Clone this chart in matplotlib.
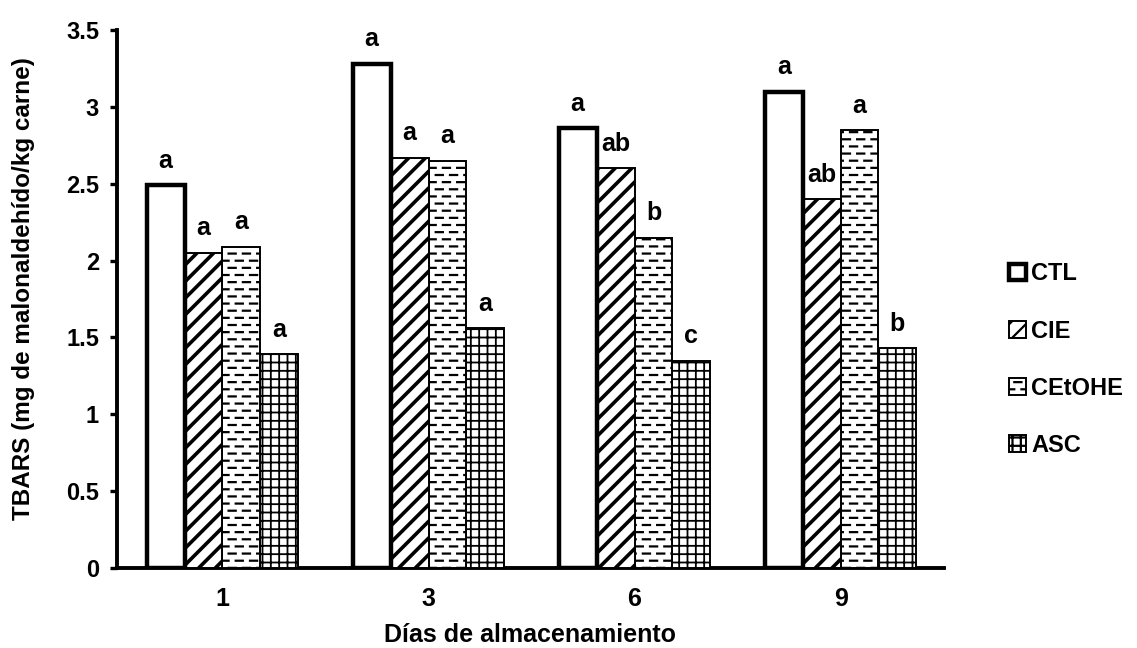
import warnings

import matplotlib
matplotlib.use("Agg")
import matplotlib.pyplot as plt
import numpy as np
from matplotlib import hatch as mhatch
from matplotlib.path import Path

warnings.filterwarnings("ignore")

dias = ["1", "3", "6", "9"]
tratamientos = ["CTL", "CIE", "CEtOHE", "ASC"]
ctl = [2.49, 3.28, 2.86, 3.10]
cie = [2.05, 2.67, 2.60, 2.40]
cetohe = [2.09, 2.65, 2.15, 2.85]
asc = [1.39, 1.56, 1.35, 1.43]
letras_ctl = ["a", "a", "a", "a"]
letras_cie = ["a", "a", "ab", "ab"]
letras_cetohe = ["a", "a", "b", "a"]
letras_asc = ["a", "a", "c", "b"]
y_ticks = [0, 0.5, 1, 1.5, 2, 2.5, 3, 3.5]
y_tick_labels = ["0", "0.5", "1", "1.5", "2", "2.5", "3", "3.5"]


class DashHatch(mhatch.HatchPatternBase):
    """Trama de guiones horizontales escalonados (caracter 'd')."""

    def __init__(self, hatch, density):
        self.rows = hatch.count("d") * 14
        self.dashes = 7
        self.num_vertices = self.rows * self.dashes * 2

    def set_vertices_and_codes(self, vertices, codes):
        k = 0
        for r in range(self.rows):
            y = (r + 0.5) / self.rows
            shift = 0.5 / self.dashes if r % 2 else 0.0
            for d in range(self.dashes):
                x0 = d / self.dashes + shift
                vertices[k] = (x0, y)
                vertices[k + 1] = (x0 + 0.5 / self.dashes, y)
                codes[k] = Path.MOVETO
                codes[k + 1] = Path.LINETO
                k += 2


mhatch._hatch_types.append(DashHatch)

plt.rcParams["font.family"] = ["Liberation Sans", "DejaVu Sans"]
plt.rcParams["font.weight"] = "bold"
plt.rcParams["hatch.linewidth"] = 1.6
plt.rcParams["hatch.color"] = "black"

fig = plt.figure(figsize=(11.37, 6.48), dpi=100)
ax = fig.add_axes([0.1029, 0.1235, 0.727, 0.830])

x = np.arange(len(dias))
w = 0.184
series = [ctl, cie, cetohe, asc]
letras = [letras_ctl, letras_cie, letras_cetohe, letras_asc]
hatches = ["", "//", "d", "++"]
hatch_lws = [1.0, 2.6, 1.6, 1.3]
lws = [3.2, 1.4, 1.4, 1.4]
handles = []
for i, (vals, h, lw) in enumerate(zip(series, hatches, lws)):
    pos = x + (i - 1.5) * w
    bars = ax.bar(pos, vals, width=w, color="white", edgecolor="black",
                  hatch=h, linewidth=lw, label=tratamientos[i], zorder=3 - i * 0.1)
    for b in bars:
        if hasattr(b, "set_hatch_linewidth"):
            b.set_hatch_linewidth(hatch_lws[i])
    handles.append(bars)
    for xp, v, t in zip(pos, vals, letras[i]):
        ax.annotate(t, (xp, v), xytext=(0, 9), textcoords="offset points",
                    ha="center", va="bottom", fontsize=18, fontweight="bold")

ax.set_xlim(-0.512, 3.5)
ax.set_ylim(0, 3.5)
ax.set_yticks(y_ticks)
ax.set_yticklabels(y_tick_labels)
ax.set_xticks(x)
ax.set_xticklabels(dias)
ax.tick_params(axis="y", direction="out", length=5, width=2.4, labelsize=17, pad=8)
ax.tick_params(axis="x", length=0, labelsize=18, pad=14)
for s in ["top", "right"]:
    ax.spines[s].set_visible(False)
for s in ["left", "bottom"]:
    ax.spines[s].set_linewidth(2.8)

ax.set_xlabel("Días de almacenamiento", fontsize=18, fontweight="bold", va="top")
ax.xaxis.set_label_coords(0.5, -0.102)
ax.set_ylabel("TBARS (mg de malonaldehído/kg carne)", fontsize=17.5,
              fontweight="bold")
ax.yaxis.set_label_coords(-0.099, 0.52)

leg = fig.legend(handles=handles, labels=tratamientos, loc="center left",
                 bbox_to_anchor=(0.869, 0.445), frameon=False, fontsize=17,
                 handlelength=0.72, handleheight=0.72, handletextpad=0.2,
                 labelspacing=1.45)
for t in leg.get_texts():
    t.set_fontweight("bold")

fig.savefig("out.png", dpi=100)
